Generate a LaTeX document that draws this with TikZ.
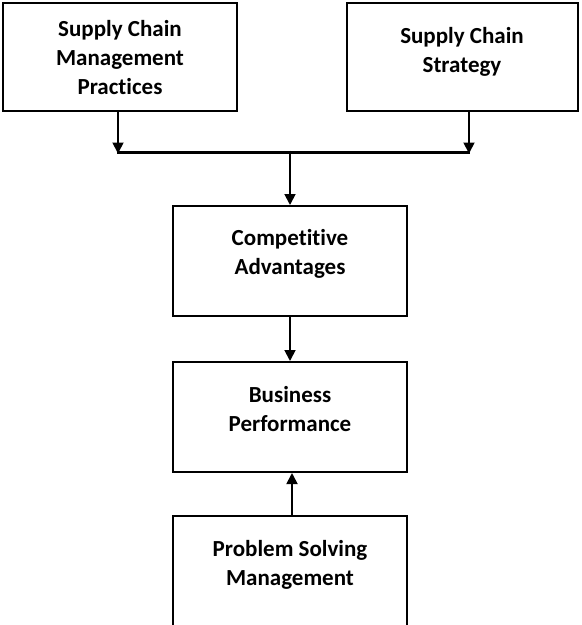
\documentclass[tikz,border=0pt]{standalone}
\usepackage{fontspec}
\setmainfont[Ligatures=NoCommon]{Carlito}
\usetikzlibrary{arrows.meta,positioning}
\tikzset{
  scm box/.style={draw=black, line width=2pt, minimum width=234pt, minimum height=108pt, inner sep=0pt},
  scm label/.style={font=\fontsize{23}{29}\selectfont\bfseries, align=center, inner sep=0pt, anchor=north},
  scm arrow/.style={draw=black, line width=1.8pt, -{Triangle[length=11pt,width=11pt]}},
  scm join/.style={draw=black, line width=3pt},
}
\begin{document}
\begin{tikzpicture}[x=1pt,y=-1pt]
  \useasboundingbox (0,0) rectangle (582,625);
  \clip (0,0) rectangle (582,625);
  % boxes
  \node[scm box] (practices) at (120,57) {};
  \node[scm box, minimum width=231pt] (strategy) at (462.5,57) {};
  \node[scm box, minimum height=110pt] (advantage) at (290,261) {};
  \node[scm box, minimum height=110pt] (performance) at (290,417) {};
  \node[scm box, minimum height=124pt] (solving) at (290,578) {};
  % labels
  \node[scm label] (practicesT) at (120,20) {Supply Chain\\Management\\Practices};
  \node[scm label] (strategyT) at (462,27) {Supply Chain\\Strategy};
  \node[scm label] (advantageT) at (290,229) {Competitive\\Advantages};
  \node[scm label] (performanceT) at (290,386) {Business\\Performance};
  \node[scm label] (solvingT) at (290,540) {Problem Solving\\Management};
  % junction
  \coordinate (jl) at (118,152);
  \coordinate (jr) at (469,152);
  \coordinate (jm) at (290,152);
  \draw[scm join] ([xshift=-1pt]jl) -- ([xshift=1pt]jr);
  \draw[scm arrow] (practices.south -| jl) -- ([yshift=-1.5pt]jl);
  \draw[scm arrow] (strategy.south -| jr) -- ([yshift=-1.5pt]jr);
  \draw[scm arrow] ([yshift=1.5pt]jm) -- (advantage.north);
  \draw[scm arrow] (advantage.south) -- (performance.north);
  \draw[scm arrow] ([xshift=2pt]solving.north) -- ([xshift=2pt]performance.south);
\end{tikzpicture}
\end{document}
